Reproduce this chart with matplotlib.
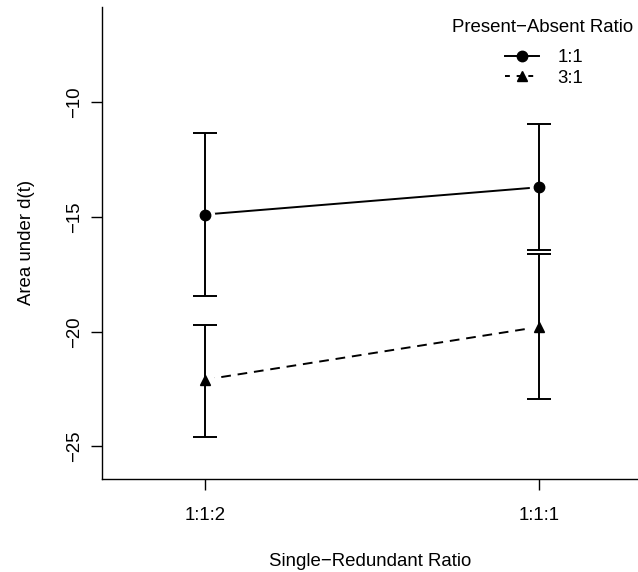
import numpy as np
import matplotlib
matplotlib.use('Agg')
from matplotlib import pyplot as plt

# data
ratios = ['1:1:2', '1:1:1']
series = ['1:1', '3:1']
mean_11 = [-14.89, -13.70]
upper_11 = [-11.35, -10.95]
lower_11 = [-18.45, -16.45]
mean_31 = [-22.09, -19.79]
upper_31 = [-19.70, -16.63]
lower_31 = [-24.58, -22.95]

plt.rcParams['font.family'] = ['Liberation Sans', 'DejaVu Sans']
plt.rcParams['font.size'] = 13.4

fig = plt.figure(figsize=(6.38, 5.72), dpi=100)
ax = fig.add_axes([0.1594, 0.1631, 0.8406, 0.8247])

x = np.arange(1, len(ratios) + 1)
lw = 1.4

groups = [
    (mean_11, upper_11, lower_11, 'o', '-'),
    (mean_31, upper_31, lower_31, '^', '--'),
]
for mean, up, lo, mk, ls in groups:
    mean = np.array(mean)
    err = [mean - np.array(lo), np.array(up) - mean]
    # connecting line (R type="b" leaves a gap round the points)
    line, = ax.plot(x, mean, ls, color='black', lw=lw, zorder=1)
    if ls == '--':
        line.set_dashes((5, 3.5))
    ax.plot(x, mean, 'o', ms=14, color='white', mec='none', zorder=2)
    ax.errorbar(x, mean, yerr=err, fmt='none', ecolor='black', elinewidth=lw,
                capsize=8.6, capthick=lw, zorder=3)
    ax.plot(x, mean, mk, ms=7.5, color='black', zorder=4)

# legend: title as its own text, entries below
ax.text(0.822, 0.9556, 'Present\u2212Absent Ratio', transform=ax.transAxes,
        ha='center', va='center')
h1, = ax.plot([], [], '-o', color='black', lw=lw, ms=7.5)
h2, = ax.plot([], [], '--^', color='black', lw=lw, ms=7.5, dashes=(2.5, 3.5))
ax.legend([h1, h2], series, frameon=False,
          loc='center', bbox_to_anchor=(0.8247, 0.8708),
          handlelength=1.8, handletextpad=1.0, labelspacing=0.2,
          borderpad=0.0)

ax.set_xlim(0.691, 2.296)
ax.set_ylim(-26.41, -5.84)
ax.set_xticks(x)
ax.set_xticklabels(ratios)
ax.set_yticks([-25, -20, -15, -10])
for t in ax.get_yticklabels():
    t.set_rotation(90)
    t.set_va('center')
ax.tick_params(direction='out', length=8, width=1, colors='black')
ax.tick_params(axis='x', pad=12.5)
ax.tick_params(axis='y', pad=5.3)
ax.spines['top'].set_visible(False)
ax.spines['right'].set_visible(False)
ax.spines['left'].set_linewidth(1)
ax.spines['bottom'].set_linewidth(1)

ax.set_xlabel('Single\u2212Redundant Ratio', labelpad=21)
ax.set_ylabel('Area under d(t)', labelpad=22.4)

fig.savefig('out.png', dpi=100)
